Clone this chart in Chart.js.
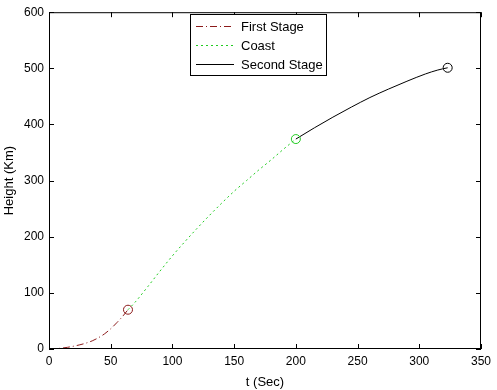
<!DOCTYPE html>
<html>
<head>
<meta charset="utf-8">
<script src="https://cdn.jsdelivr.net/npm/chart.js@4.4.1/dist/chart.umd.min.js"></script>
<style>
  html, body { margin: 0; padding: 0; background: #fff; }
  #wrap { width: 497px; height: 390px; }
</style>
</head>
<body>
<div id="wrap"><canvas id="c"></canvas></div>
<script>
// time (s) and height (km)
const firstT = [0, 5, 10, 15, 20, 25, 30, 35, 40, 45, 50, 55, 60, 64];
const firstH = [0, 0.5, 1.5, 3, 5, 7.5, 10.5, 14.5, 20, 27, 36, 47, 59, 70];
const coastT = [64, 70, 80, 90, 100, 110, 120, 130, 140, 150, 160, 170, 180, 190, 200];
const coastH = [70, 84, 111, 139, 166, 191, 215, 238, 260, 281, 300, 319, 337, 356, 374];
const secondT = [200, 215, 230, 245, 260, 275, 290, 305, 315, 323];
const secondH = [374, 394, 413, 431, 448, 463, 477, 490, 497, 501];
const xTicks = [0, 50, 100, 150, 200, 250, 300, 350];
const yTicks = [0, 100, 200, 300, 400, 500, 600];
const legendLabels = ['First Stage', 'Coast', 'Second Stage'];

const FONT = '"Liberation Sans", Arial, sans-serif';

const toPts = (t, h) => t.map((v, i) => ({ x: v, y: h[i] }));
const lastOnly = (n) => (ctx) => (ctx.dataIndex === n - 1 ? 4.5 : 0);

// MATLAB-style box with inward ticks on all four sides
const matlabBox = {
  id: 'matlabBox',
  afterDraw(chart) {
    const { ctx, chartArea: { left, top, right, bottom }, scales } = chart;
    ctx.save();
    ctx.strokeStyle = '#000';
    ctx.lineWidth = 1;
    ctx.strokeRect(left + 0.5, top + 0.5, right - left - 1, bottom - top - 1);
    ctx.beginPath();
    xTicks.forEach((v) => {
      const px = Math.round(scales.x.getPixelForValue(v)) + 0.5;
      ctx.moveTo(px, bottom); ctx.lineTo(px, bottom - 5);
      ctx.moveTo(px, top); ctx.lineTo(px, top + 5);
    });
    yTicks.forEach((v) => {
      const py = Math.round(scales.y.getPixelForValue(v)) + 0.5;
      ctx.moveTo(left, py); ctx.lineTo(left + 5, py);
      ctx.moveTo(right, py); ctx.lineTo(right - 5, py);
    });
    ctx.stroke();

    // legend
    const lx = 190.5, ly = 14.5, lw = 136, lh = 61;
    ctx.fillStyle = '#fff';
    ctx.fillRect(lx, ly, lw, lh);
    ctx.strokeRect(lx, ly, lw, lh);
    ctx.font = '13px ' + FONT;
    ctx.textBaseline = 'middle';
    chart.data.datasets.forEach((ds, i) => {
      const y = Math.round(ly + 11 + i * 19) + 0.5;
      ctx.strokeStyle = ds.borderColor;
      ctx.setLineDash(ds.borderDash || []);
      ctx.beginPath();
      ctx.moveTo(196, y); ctx.lineTo(234, y);
      ctx.stroke();
      ctx.setLineDash([]);
      ctx.fillStyle = '#000';
      ctx.fillText(legendLabels[i], 241, y + 1);
    });
    ctx.restore();
  },
};

new Chart(document.getElementById('c'), {
  type: 'scatter',
  data: {
    datasets: [
      {
        label: legendLabels[0],
        data: toPts(firstT, firstH),
        showLine: true,
        borderColor: '#8b1a1a',
        borderWidth: 1,
        borderDash: [7, 3, 1, 3],
        backgroundColor: 'rgba(0,0,0,0)',
        pointRadius: lastOnly(firstT.length),
        pointBorderWidth: 1,
        cubicInterpolationMode: 'monotone',
      },
      {
        label: legendLabels[1],
        data: toPts(coastT, coastH),
        showLine: true,
        borderColor: '#22cc22',
        borderWidth: 1,
        borderDash: [2, 3],
        backgroundColor: 'rgba(0,0,0,0)',
        pointRadius: lastOnly(coastT.length),
        pointBorderWidth: 1,
        cubicInterpolationMode: 'monotone',
      },
      {
        label: legendLabels[2],
        data: toPts(secondT, secondH),
        showLine: true,
        borderColor: '#000',
        borderWidth: 1,
        backgroundColor: 'rgba(0,0,0,0)',
        pointRadius: lastOnly(secondT.length),
        pointBorderWidth: 1,
        cubicInterpolationMode: 'monotone',
      },
    ],
  },
  options: {
    responsive: true,
    maintainAspectRatio: false,
    animation: false,
    events: [],
    layout: { padding: { left: 0, right: 16, top: 9, bottom: 0 } },
    scales: {
      x: {
        type: 'linear',
        min: 0,
        max: 350,
        afterFit: (s) => { s.height = 41; },
        afterBuildTicks: (s) => { s.ticks = xTicks.map((v) => ({ value: v })); },
        grid: { display: false, drawTicks: false },
        border: { display: false },
        ticks: { color: '#000', padding: 5, font: { family: FONT, size: 12 } },
        title: {
          display: true,
          text: 't (Sec)',
          color: '#000',
          padding: { top: 9, bottom: 0 },
          font: { family: FONT, size: 13 },
        },
      },
      y: {
        type: 'linear',
        min: 0,
        max: 600,
        afterFit: (s) => { s.width = 49; },
        afterBuildTicks: (s) => { s.ticks = yTicks.map((v) => ({ value: v })); },
        grid: { display: false, drawTicks: false },
        border: { display: false },
        ticks: { color: '#000', padding: 5, font: { family: FONT, size: 12 } },
        title: {
          display: true,
          text: 'Height (Km)',
          color: '#000',
          padding: { top: 2, bottom: 0 },
          font: { family: FONT, size: 13 },
        },
      },
    },
    plugins: {
      legend: { display: false },
      tooltip: { enabled: false },
    },
  },
  plugins: [matlabBox],
});
</script>
</body>
</html>
